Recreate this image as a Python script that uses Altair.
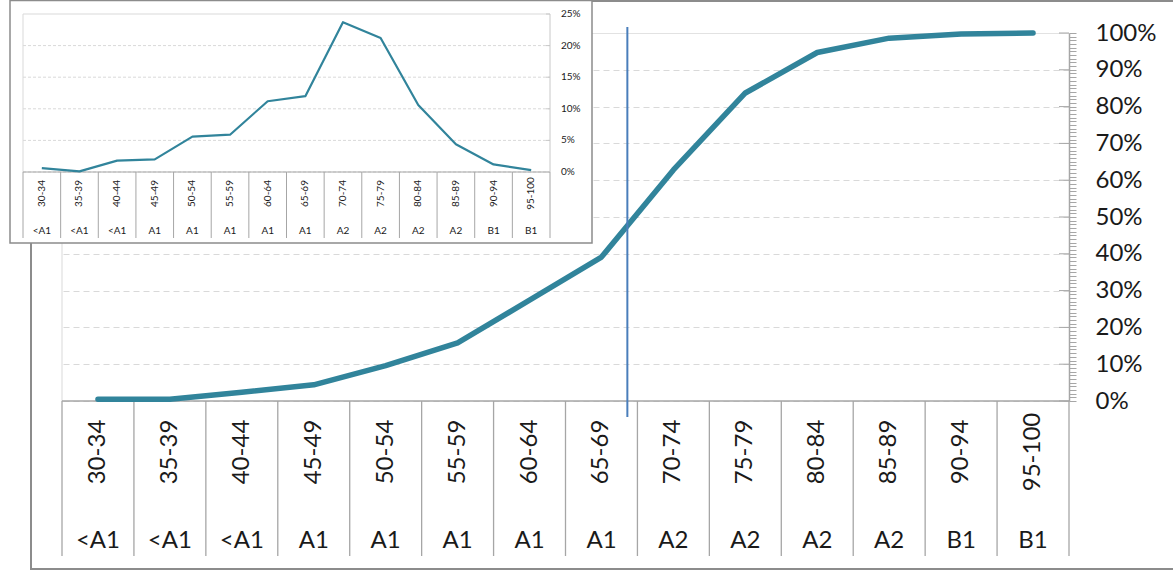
import altair as alt
import pandas as pd

# ---------------- data ----------------
score_ranges = ["30-34", "35-39", "40-44", "45-49", "50-54", "55-59", "60-64",
                "65-69", "70-74", "75-79", "80-84", "85-89", "90-94", "95-100"]
levels = ["<A1", "<A1", "<A1", "A1", "A1", "A1", "A1",
          "A1", "A2", "A2", "A2", "A2", "B1", "B1"]
share_pct = [0.6, 0.1, 1.8, 2.0, 5.6, 5.9, 11.2, 12.0, 23.7, 21.2, 10.6, 4.4, 1.2, 0.3]
cumulative_pct = [0.5, 0.5, 2.4, 4.4, 9.6, 15.8, 27.4, 39.1, 62.8, 83.7, 94.7, 98.6, 99.7, 100.0]
main_y_ticks = [0, 10, 20, 30, 40, 50, 60, 70, 80, 90, 100]
inset_y_ticks = [0, 5, 10, 15, 20, 25]
marker_category = "65-69"

df = pd.DataFrame({"range": score_ranges, "level": levels,
                   "share": share_pct, "cum": cumulative_pct})
main_ticks_df = pd.DataFrame({"t": main_y_ticks})
inset_ticks_df = pd.DataFrame({"t": inset_y_ticks})
marker_df = pd.DataFrame({"range": [marker_category]})
one = pd.DataFrame({"k": [0]})

# ---------------- styling / layout ----------------
TEAL = "#31849B"
BLUE = "#4A7EBB"
AXIS_GRAY = "#A6A6A6"
GRID_GRAY = "#D9D9D9"
BORDER_GRAY = "#8C8C8C"
TXT = "#1a1a1a"
FONT = "Lato"

OX, OY = 62, 33          # page position of main plot origin
W, H = 1007, 368          # main plot size
PAGE_W, PAGE_H = 1173, 577


def px(x):
    return x - OX


def py(y):
    return y - OY


# ---------------- main chart ----------------
xs_main = alt.Scale(type="band", domain=score_ranges, paddingInner=0, paddingOuter=0)
ys_main = alt.Scale(domain=[0, 100], nice=False, zero=True)


def XM(**kw):
    return alt.X("range:N", scale=xs_main, axis=None, **kw)


minor_ticks = list(range(0, 101))
y_axis = alt.Axis(
    orient="right", values=minor_ticks, title=None,
    labelExpr="datum.value % 10 === 0 ? datum.value + '%' : ''",
    labelOverlap=False, labelFont=FONT, labelFontSize=24, labelColor=TXT,
    labelPadding=19, tickSize=7, tickColor=AXIS_GRAY, tickWidth=1,
    domainColor=AXIS_GRAY, domainWidth=1.5,
    grid=True, gridColor=GRID_GRAY, gridWidth=1,
    gridOpacity={"condition": {"test": "datum.value % 10 === 0", "value": 1}, "value": 0},
    gridDash={"condition": {"test": "datum.value >= 100", "value": [1, 0]}, "value": [6, 4]},
)

base = alt.Chart(df)

main_line = base.mark_line(color=TEAL, strokeWidth=5.5, strokeCap="round", strokeJoin="round").encode(
    x=XM(), y=alt.Y("cum:Q", scale=ys_main, axis=y_axis)
)

inner_ticks = alt.Chart(main_ticks_df).mark_rule(color=AXIS_GRAY, strokeWidth=1).encode(
    y=alt.Y("t:Q", scale=ys_main, axis=y_axis),
    x=alt.value(W - 10), x2=alt.value(W),
)

plot_left = alt.Chart(one).mark_rule(color=GRID_GRAY, strokeWidth=1).encode(
    x=alt.value(0), y=alt.value(0), y2=alt.value(H)
)
x_domain = alt.Chart(one).mark_rule(color=AXIS_GRAY, strokeWidth=1.5).encode(
    x=alt.value(0), x2=alt.value(W), y=alt.value(H)
)
separators = base.mark_rule(color=AXIS_GRAY, strokeWidth=1.3).encode(
    x=XM(bandPosition=0), y=alt.value(H), y2=alt.value(py(556))
)
separator_end = alt.Chart(one).mark_rule(color=AXIS_GRAY, strokeWidth=1.3).encode(
    x=alt.value(W), y=alt.value(H), y2=alt.value(py(556))
)
range_labels = base.mark_text(angle=270, font=FONT, fontSize=24, color=TXT,
                              align="center", baseline="middle").encode(
    x=XM(), y=alt.value(py(452)), text="range:N"
)
level_labels = base.mark_text(font=FONT, fontSize=24, color=TXT,
                              align="center", baseline="middle").encode(
    x=XM(), y=alt.value(py(541)), text="level:N"
)
marker = alt.Chart(marker_df).mark_rule(color=BLUE, strokeWidth=2).encode(
    x=XM(bandPosition=0.86), y=alt.value(py(27)), y2=alt.value(py(417))
)
outer_border = alt.Chart(one).mark_rect(fill="transparent", stroke=BORDER_GRAY, strokeWidth=2).encode(
    x=alt.value(px(31)), x2=alt.value(px(1190)), y=alt.value(py(1)), y2=alt.value(py(569))
)

main_group = alt.layer(
    outer_border, plot_left, inner_ticks, x_domain, separators, separator_end,
    range_labels, level_labels, main_line, marker
)

# ---------------- inset chart ----------------
xs_in = alt.Scale(type="band", domain=score_ranges, paddingInner=0, paddingOuter=0,
                  range=[px(23), px(550)])
ys_in = alt.Scale(domain=[0, 25], nice=False, zero=True, range=[py(172), py(14)])


def XI(**kw):
    return alt.X("range:N", scale=xs_in, axis=None, **kw)


in_bg = alt.Chart(one).mark_rect(fill="white", stroke=BORDER_GRAY, strokeWidth=1.5).encode(
    x=alt.value(px(10)), x2=alt.value(px(592)), y=alt.value(py(0.5)), y2=alt.value(py(243))
)
in_grid = alt.Chart(inset_ticks_df).mark_rule(color=GRID_GRAY, strokeWidth=1).encode(
    y=alt.Y("t:Q", scale=ys_in, axis=None),
    x=alt.value(px(23)), x2=alt.value(px(550)),
    strokeDash=alt.condition("datum.t >= 25", alt.value([1, 0]), alt.value([3, 2])),
)
in_left = alt.Chart(one).mark_rule(color=GRID_GRAY, strokeWidth=1).encode(
    x=alt.value(px(23)), y=alt.value(py(14)), y2=alt.value(py(172))
)
in_xdomain = alt.Chart(one).mark_rule(color=AXIS_GRAY, strokeWidth=1).encode(
    x=alt.value(px(23)), x2=alt.value(px(550)), y=alt.value(py(172))
)
in_ydomain = alt.Chart(one).mark_rule(color="#C8C8C8", strokeWidth=1).encode(
    x=alt.value(px(550)), y=alt.value(py(14)), y2=alt.value(py(172))
)
in_yticks = alt.Chart(inset_ticks_df).mark_rule(color="#C8C8C8", strokeWidth=1).encode(
    y=alt.Y("t:Q", scale=ys_in, axis=None), x=alt.value(px(546)), x2=alt.value(px(550))
)
in_ylabels = alt.Chart(inset_ticks_df).transform_calculate(
    lab="datum.t + '%'"
).mark_text(font=FONT, fontSize=10, color=TXT, align="left", baseline="middle").encode(
    y=alt.Y("t:Q", scale=ys_in, axis=None), x=alt.value(px(561)), text="lab:N"
)
in_separators = base.mark_rule(color=AXIS_GRAY, strokeWidth=1).encode(
    x=XI(bandPosition=0), y=alt.value(py(172)), y2=alt.value(py(238))
)
in_sep_end = alt.Chart(one).mark_rule(color=AXIS_GRAY, strokeWidth=1).encode(
    x=alt.value(px(550)), y=alt.value(py(172)), y2=alt.value(py(238))
)
in_range_labels = base.mark_text(angle=270, font=FONT, fontSize=10, color=TXT,
                                 align="center", baseline="middle").encode(
    x=XI(), y=alt.value(py(193.5)), text="range:N"
)
in_level_labels = base.mark_text(font=FONT, fontSize=10, color=TXT,
                                 align="center", baseline="middle").encode(
    x=XI(), y=alt.value(py(230.5)), text="level:N"
)
in_line = base.mark_line(color=TEAL, strokeWidth=2.2, strokeJoin="round").encode(
    x=XI(), y=alt.Y("share:Q", scale=ys_in, axis=None)
)

inset_group = alt.layer(
    in_bg, in_grid, in_left, in_xdomain, in_ydomain, in_yticks, in_ylabels,
    in_separators, in_sep_end, in_range_labels, in_level_labels, in_line
)

chart = alt.layer(main_group, inset_group).resolve_scale(
    x="independent", y="independent"
).properties(
    width=W, height=H, autosize="none", background="white",
    padding={"left": OX, "top": OY, "right": PAGE_W - OX - W, "bottom": PAGE_H - OY - H},
).configure_view(strokeWidth=0)

chart.save("out.html", embed_options={"renderer": "svg", "actions": False})
